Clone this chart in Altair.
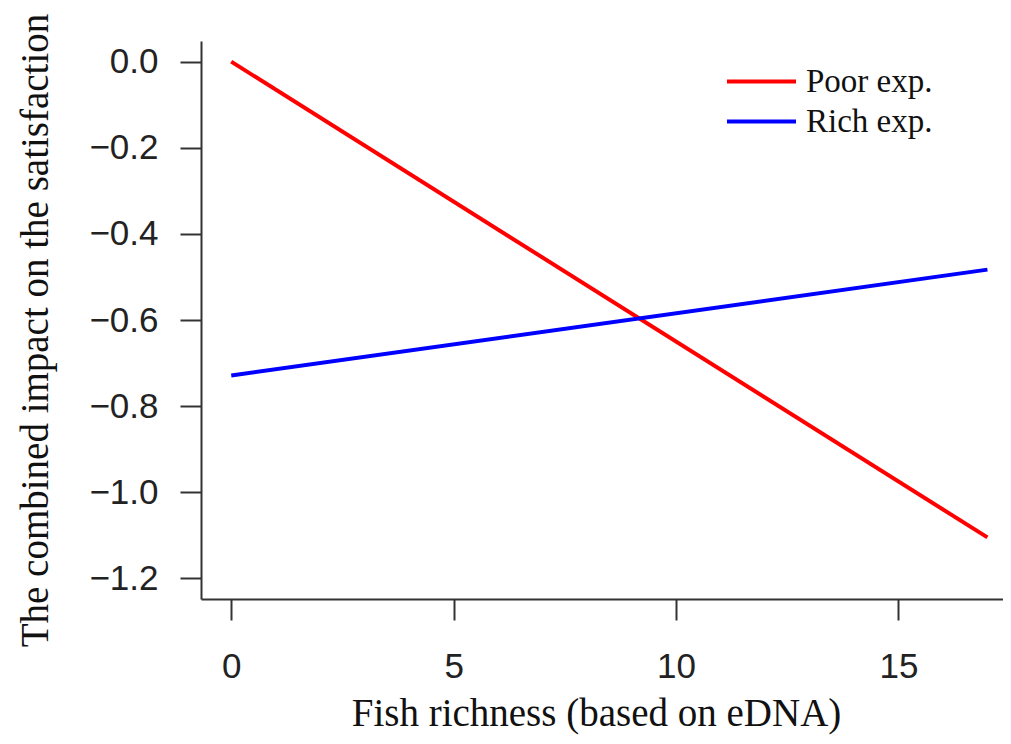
import altair as alt
import pandas as pd

richness = [0, 17]
poor_exp = [0.0, -1.105]
rich_exp = [-0.729, -0.483]
series = ["Poor exp.", "Rich exp."]
series_colors = ["#ff0000", "#0000ff"]
x_ticks = [0, 5, 10, 15]
y_ticks = [0.0, -0.2, -0.4, -0.6, -0.8, -1.0, -1.2]

rows = []
for name, vals in zip(series, [poor_exp, rich_exp]):
    for xv, yv in zip(richness, vals):
        rows.append({"richness": xv, "impact": yv, "group": name})
df = pd.DataFrame(rows)

axis_common = dict(
    grid=False,
    domainColor="#333333",
    domainWidth=2,
    tickColor="#333333",
    tickWidth=2,
    tickSize=21,
    labelFont="Liberation Sans",
    labelFontSize=35,
    labelColor="#222222",
    titleFont="Liberation Serif",
    titleFontSize=39,
    titleFontWeight="normal",
    titleColor="#111111",
)

chart = alt.Chart(df).mark_line(strokeWidth=4, clip=True).encode(
    x=alt.X(
        "richness:Q",
        scale=alt.Scale(domain=[-0.68, 17.35], nice=False, zero=False),
        axis=alt.Axis(
            values=x_ticks,
            format="d",
            title="Fish richness (based on eDNA)",
            labelBaseline="alphabetic",
            labelPadding=57,
            titleX=395,
            titleY=126,
            titleBaseline="alphabetic",
            titleAlign="center",
            **axis_common,
        ),
    ),
    y=alt.Y(
        "impact:Q",
        scale=alt.Scale(domain=[-1.248, 0.048], nice=False, zero=False),
        axis=alt.Axis(
            values=y_ticks,
            format=".1f",
            title="The combined impact on the satisfaction",
            labelPadding=22,
            titleAngle=270,
            titleX=-154,
            titleY=289,
            titleBaseline="alphabetic",
            titleAlign="center",
            **axis_common,
        ),
    ),
    color=alt.Color(
        "group:N",
        scale=alt.Scale(domain=series, range=series_colors),
        legend=alt.Legend(
            title=None,
            orient="none",
            legendX=544,
            legendY=24,
            symbolType="M-4,0H4",
            symbolSize=297.6,
            symbolStrokeWidth=4,
            labelFont="Liberation Serif",
            labelFontSize=33,
            labelColor="#111111",
            labelOffset=28,
            rowPadding=6,
            padding=0,
        ),
    ),
).properties(
    width=802,
    height=558,
    autosize=alt.AutoSizeParams(type="none"),
    padding={"left": 193, "top": 33, "right": 0, "bottom": 137},
).configure_view(stroke=None)

chart.save("out.html", embed_options={"renderer": "svg", "actions": False})
